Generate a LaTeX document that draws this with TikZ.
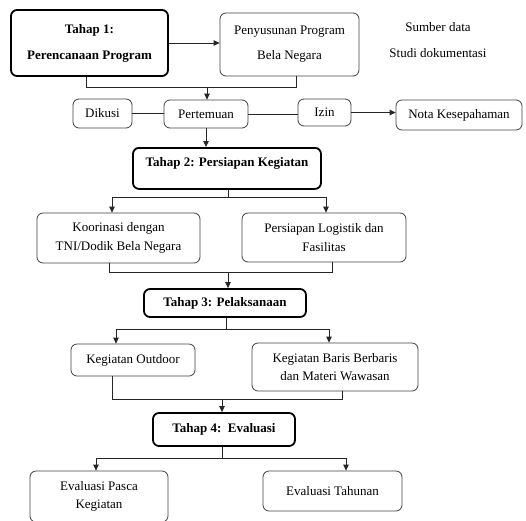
\documentclass[tikz,border=0pt]{standalone}
\usepackage{fontspec}
\setmainfont{Liberation Serif}
\usetikzlibrary{arrows.meta}
\begin{document}
\begin{tikzpicture}[x=1pt,y=-1pt,
  every node/.style={font=\fontsize{13}{19}\selectfont,align=center,inner sep=0pt},
  box/.style={draw=black!75,line width=0.8pt,rounded corners=6pt},
  tahap/.style={draw,line width=1.8pt,rounded corners=6pt,font=\fontsize{13}{26}\selectfont\bfseries},
  line/.style={draw=black!85,line width=0.8pt},
  arr/.style={line,-{Triangle[length=6pt,width=5.5pt]}},
  ]
\useasboundingbox (0,0) rectangle (526,520);
\clip (0,0) rectangle (526,520);
\node[tahap,minimum width=157,minimum height=66] (t1) at (89.5,43) {Tahap 1:\\Perencanaan Program};
\node[box,minimum width=139,minimum height=63,font=\fontsize{13}{25}\selectfont] (pen) at (289.5,44.5) {Penyusunan Program\\Bela Negara};
\node[font=\fontsize{13}{26}\selectfont] (src) at (438,40) {Sumber data\\Studi dokumentasi};
\node[box,minimum width=59,minimum height=29] (dik) at (102.5,113.5) {Dikusi};
\node[box,minimum width=84,minimum height=28] (pert) at (206,114) {Pertemuan};
\node[box,minimum width=53,minimum height=27] (izin) at (324.5,112.5) {Izin};
\node[box,minimum width=126,minimum height=30] (nota) at (459,115) {Nota Kesepahaman};
\node[tahap,anchor=north,minimum width=188,text height=19pt,text depth=22pt] (t2) at (227,147) {Tahap 2: Persiapan Kegiatan};
\node[box,minimum width=163,minimum height=50] (koor) at (118.5,238) {Koorinasi dengan\\TNI/Dodik Bela Negara};
\node[box,minimum width=164,minimum height=49] (pers) at (324,237.5) {Persiapan Logistik dan\\Fasilitas};
\node[tahap,minimum width=162,minimum height=28] (t3) at (225,303) {Tahap 3: Pelaksanaan};
\node[box,minimum width=124,minimum height=32] (out) at (133,360) {Kegiatan Outdoor};
\node[box,minimum width=166,minimum height=48,font=\fontsize{13}{18}\selectfont] (baris) at (335,367) {Kegiatan Baris Berbaris\\dan Materi Wawasan};
\node[tahap,minimum width=142,minimum height=33] (t4) at (224,429.5) {Tahap 4:\ \ Evaluasi};
\node[box,minimum width=138,minimum height=51,font=\fontsize{13}{18}\selectfont] (evp) at (99,496.5) {Evaluasi Pasca\\Kegiatan};
\node[box,minimum width=139,minimum height=40] (evt) at (332.5,491) {Evaluasi Tahunan};

\coordinate (m1l) at (86,87);
\coordinate (m1r) at (296,87);
\coordinate (m1) at (207,87);
\draw[arr] (t1.east) -- (t1.east -| pen.west);
\draw[line] (m1l |- t1.south) -- (m1l) -- (m1r) -- (m1r |- pen.south);
\draw[arr] (m1) -- (m1 |- pert.north);
\draw[line] (dik.east) -- (dik.east -| pert.west);
\draw[line] (pert.east) -- (pert.east -| izin.west);
\draw[arr] (izin.east) -- (izin.east -| nota.west);
\draw[arr] (pert) -- (pert |- t2.north);

\coordinate (b2) at (228,197);
\coordinate (b2l) at (112,197);
\coordinate (b2r) at (326,197);
\draw[line] (b2 |- t2.south) -- (b2);
\draw[line] (b2l) -- (b2r);
\draw[arr] (b2l) -- (b2l |- koor.north);
\draw[arr] (b2r) -- (b2r |- pers.north);

\coordinate (m2l) at (109,272);
\coordinate (m2r) at (332,272);
\coordinate (m2) at (228,272);
\draw[line] (m2l |- koor.south) -- (m2l) -- (m2r) -- (m2r |- pers.south);
\draw[arr] (m2) -- (m2 |- t3.north);

\coordinate (b3) at (226,329);
\coordinate (b3l) at (116,329);
\coordinate (b3r) at (329,329);
\draw[line] (b3 |- t3.south) -- (b3);
\draw[line] (b3l) -- (b3r);
\draw[arr] (b3l) -- (b3l |- out.north);
\draw[arr] (b3r) -- (b3r |- baris.north);

\coordinate (m3l) at (112,399);
\coordinate (m3r) at (342,399);
\coordinate (m3) at (222,399);
\draw[line] (m3l |- out.south) -- (m3l) -- (m3r) -- (m3r |- baris.south);
\draw[arr] (m3) -- (m3 |- t4.north);

\coordinate (b4) at (222,458);
\coordinate (b4l) at (96,458);
\coordinate (b4r) at (346,458);
\draw[line] (b4 |- t4.south) -- (b4);
\draw[line] (b4l) -- (b4r);
\draw[arr] (b4l) -- (b4l |- evp.north);
\draw[arr] (b4r) -- (b4r |- evt.north);
\end{tikzpicture}
\end{document}
